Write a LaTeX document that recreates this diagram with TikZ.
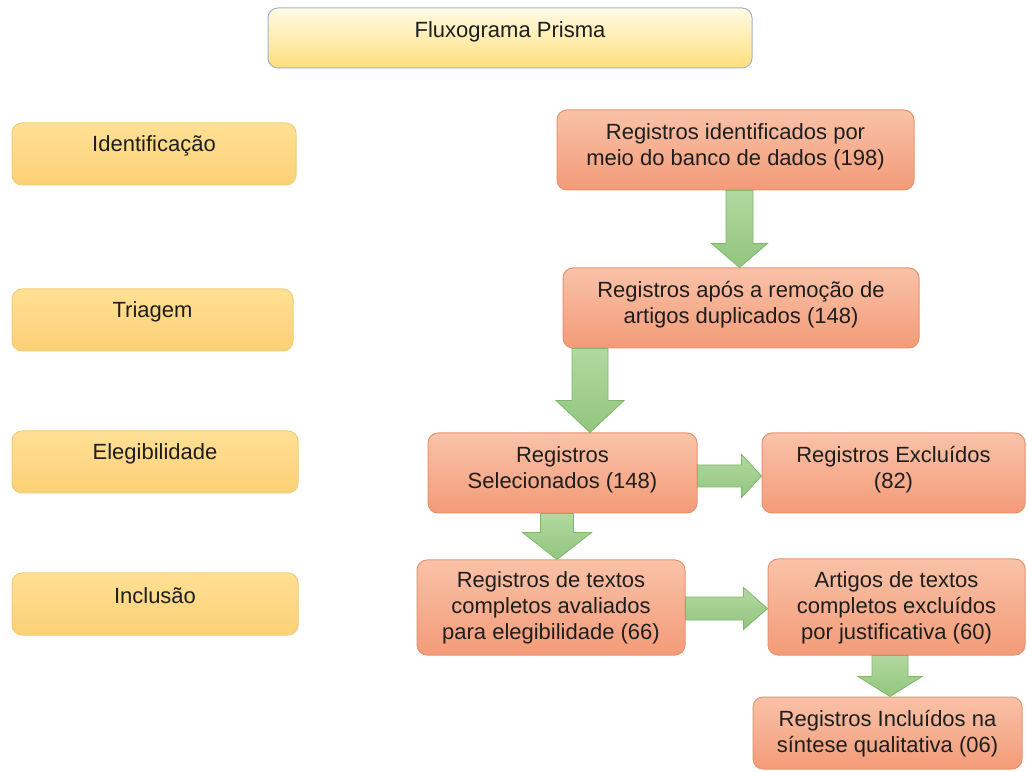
\documentclass[tikz,border=0pt]{standalone}
\usepackage{fontspec}
\setmainfont{Liberation Sans}
\usetikzlibrary{calc}
\definecolor{salmonTop}{RGB}{249,194,168}
\definecolor{salmonBot}{RGB}{243,155,120}
\definecolor{salmonLine}{RGB}{232,146,112}
\definecolor{yelTop}{RGB}{255,224,148}
\definecolor{yelBot}{RGB}{252,208,118}
\definecolor{yelLine}{RGB}{240,205,120}
\definecolor{titTop}{RGB}{255,251,228}
\definecolor{titBot}{RGB}{255,222,125}
\definecolor{titLine}{RGB}{160,180,200}
\definecolor{grnTop}{RGB}{178,216,160}
\definecolor{grnBot}{RGB}{146,198,126}
\definecolor{grnLine}{RGB}{128,182,108}
\definecolor{txtCol}{RGB}{30,30,30}
\tikzset{
  x=1pt, y=1pt,
  basebox/.style={rectangle, rounded corners=10pt, line width=1pt, inner sep=0pt},
  salmonbox/.style={basebox, draw=salmonLine, top color=salmonTop, bottom color=salmonBot},
  yelbox/.style={basebox, draw=yelLine, top color=yelTop, bottom color=yelBot},
  titbox/.style={basebox, draw=titLine, top color=titTop, bottom color=titBot},
  boxtext/.style={align=center, text=txtCol, inner sep=0pt,
    font=\fontsize{22}{26}\selectfont},
  garrow/.style={draw=grnLine, line width=0.8pt, top color=grnTop, bottom color=grnBot, line join=miter},
}
% vertical block arrow: #1 from node, #2 to node, #3 centre x, #4 shaft half, #5 head half, #6 head length
\newcommand\gdownarrow[6]{%
  \path[garrow] let \p1=(#1.south), \p2=(#2.north) in
    ({#3-#4},\y1) -- ({#3+#4},\y1) -- ({#3+#4},{\y2+#6}) -- ({#3+#5},{\y2+#6})
    -- (#3,\y2) -- ({#3-#5},{\y2+#6}) -- ({#3-#4},{\y2+#6}) -- cycle;}
% horizontal block arrow: #1 from node, #2 to node, #3 centre y, #4 shaft half, #5 head half, #6 head length
\newcommand\grightarrow[6]{%
  \path[garrow] let \p1=(#1.east), \p2=(#2.west) in
    (\x1,{#3+#4}) -- ({\x2-#6},{#3+#4}) -- ({\x2-#6},{#3+#5}) -- (\x2,#3)
    -- ({\x2-#6},{#3-#5}) -- ({\x2-#6},{#3-#4}) -- (\x1,{#3-#4}) -- cycle;}
\begin{document}
\begin{tikzpicture}
\useasboundingbox[fill=white] (0,0) rectangle (1027,771);

% title
\node[titbox, minimum width=484pt, minimum height=60pt] (title) at (510,733) {};
\node[boxtext] (titleT) at (510,739) {Fluxograma Prisma};

% stage boxes (left)
\node[yelbox, minimum width=284pt, minimum height=62pt] (ident) at (154,617) {};
\node[boxtext] (identT) at (154,625) {Identificação};
\node[yelbox, minimum width=281pt, minimum height=62pt] (triag) at (152.5,451) {};
\node[boxtext] (triagT) at (152.5,459) {Triagem};
\node[yelbox, minimum width=286pt, minimum height=62pt] (elig) at (155,309) {};
\node[boxtext] (eligT) at (155,317) {Elegibilidade};
\node[yelbox, minimum width=286pt, minimum height=62pt] (incl) at (155,167) {};
\node[boxtext] (inclT) at (155,175) {Inclusão};

% flow boxes
\node[salmonbox, minimum width=357pt, minimum height=80pt] (b1) at (735.5,621) {};
\node[boxtext] (b1T) at (735.5,624) {Registros identificados por\\meio do banco de dados (198)};
\node[salmonbox, minimum width=356pt, minimum height=80pt] (b2) at (741,463) {};
\node[boxtext] (b2T) at (741,466) {Registros após a remoção de\\artigos duplicados (148)};
\node[salmonbox, minimum width=269pt, minimum height=80pt] (b3) at (562.5,298) {};
\node[boxtext] (b3T) at (562.5,301) {Registros\\Selecionados (148)};
\node[salmonbox, minimum width=263pt, minimum height=80pt] (b4) at (893.5,298) {};
\node[boxtext] (b4T) at (893.5,301) {Registros Excluídos\\(82)};
\node[salmonbox, minimum width=268pt, minimum height=95pt] (b5) at (551,163.5) {};
\node[boxtext] (b5T) at (551,163) {Registros de textos\\completos avaliados\\para elegibilidade (66)};
\node[salmonbox, minimum width=257pt, minimum height=96pt] (b6) at (896.5,164) {};
\node[boxtext] (b6T) at (896.5,163) {Artigos de textos\\completos excluídos\\por justificativa (60)};
\node[salmonbox, minimum width=269pt, minimum height=72pt] (b7) at (887.5,38) {};
\node[boxtext] (b7T) at (887.5,37) {Registros Incluídos na\\síntese qualitativa (06)};

% block arrows
\gdownarrow{b1}{b2}{739.5}{13.5}{28}{24}
\gdownarrow{b2}{b3}{590}{18}{34}{32}
\grightarrow{b3}{b4}{295}{11}{21.5}{20}
\gdownarrow{b3}{b5}{557}{16.5}{34.5}{27}
\grightarrow{b5}{b6}{162.5}{11.5}{21}{24}
\gdownarrow{b6}{b7}{890}{18}{32}{20}
\end{tikzpicture}
\end{document}
